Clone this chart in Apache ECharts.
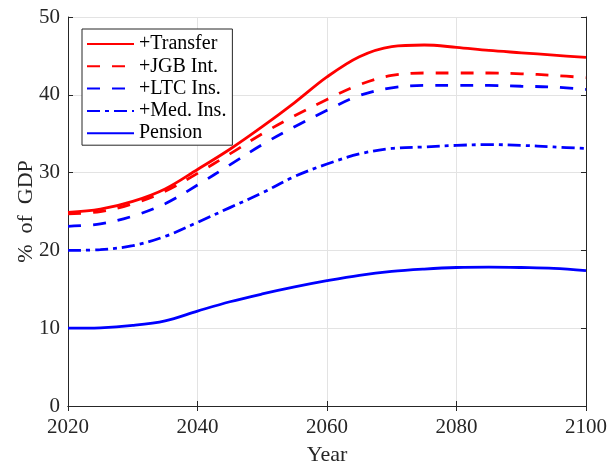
<!DOCTYPE html>
<html><head><meta charset="utf-8">
<script src="https://cdn.jsdelivr.net/npm/echarts@6/dist/echarts.min.js"></script>
<style>html,body{margin:0;padding:0;background:#fff}#c{width:609px;height:463px}</style>
</head><body><div id="c"></div>
<script>
const years = [2020,2025,2030,2035,2040,2045,2050,2055,2060,2065,2070,2075,2080,2085,2090,2095,2100];
const transfer = [24.9,25.3,26.3,27.9,30.4,33.0,35.9,39.0,42.3,44.9,46.2,46.4,46.1,45.7,45.4,45.1,44.8];
const jgb = [24.7,25.0,26.0,27.6,29.9,32.4,35.0,37.3,39.4,41.3,42.5,42.8,42.8,42.8,42.7,42.5,42.2];
const ltc = [23.1,23.4,24.4,26.0,28.4,31.0,33.6,35.9,38.0,39.9,40.9,41.2,41.2,41.2,41.1,41.0,40.7];
const med = [20.0,20.1,20.6,21.8,23.6,25.5,27.4,29.5,31.1,32.4,33.1,33.3,33.5,33.6,33.5,33.3,33.1];
const pension = [10.0,10.05,10.35,10.95,12.2,13.4,14.4,15.3,16.1,16.8,17.3,17.6,17.8,17.85,17.8,17.7,17.4];
const xTicks = [2020,2040,2060,2080,2100];
const yTicks = [0,10,20,30,40,50];

const FONT = '"Liberation Serif","Times New Roman",serif';
const AX = '#262626';
const pair = a => years.map((y,i)=>[y,a[i]]);
const chart = echarts.init(document.getElementById('c'));
const mk = (name, data, color, type) => ({
  name, type:'line', data: pair(data), smooth:0.35, symbol:'none',
  lineStyle:{color, width:2.8, type}, itemStyle:{color}
});
const axisBase = {
  axisLine:{show:true,lineStyle:{color:AX,width:1}},
  axisTick:{show:true,inside:true,length:5,lineStyle:{color:AX}},
};
chart.setOption({
  animation:false,
  grid:{left:68,right:23,top:17,bottom:57,outerBoundsMode:'none',containLabel:false},
  legend:{
    left:82, top:29, orient:'vertical',
    data:['+Transfer','+JGB Int.','+LTC Ins.','+Med. Ins.','Pension'],
    itemWidth:47, itemHeight:14, itemGap:2.3,
    itemStyle:{opacity:0},
    backgroundColor:'#fff', borderColor:AX, borderWidth:1, borderRadius:0,
    padding:[5,6,2,4],
    textStyle:{fontFamily:FONT,fontSize:20,lineHeight:20,color:'#000'}
  },
  xAxis:[
    Object.assign({type:'value',min:2020,max:2100,interval:20,
      name:'Year',nameLocation:'middle',nameGap:38,nameMoveOverlap:false,
      nameTextStyle:{fontFamily:FONT,fontSize:22,color:AX},
      axisLabel:{fontFamily:FONT,fontSize:21,color:AX,margin:11,
        formatter:v=>xTicks.includes(v)?String(v):''},
      splitLine:{show:true,lineStyle:{color:'#e3e3e3',width:1}}},axisBase),
    Object.assign({type:'value',min:2020,max:2100,interval:20,position:'top',
      axisLabel:{show:false},splitLine:{show:false}},axisBase)
  ],
  yAxis:[
    Object.assign({type:'value',min:0,max:50,interval:10,
      name:'%  of  GDP',nameLocation:'middle',nameGap:31,nameMoveOverlap:false,
      nameTextStyle:{fontFamily:FONT,fontSize:22,color:AX},
      axisLabel:{fontFamily:FONT,fontSize:21,color:AX,margin:8,
        formatter:v=>yTicks.includes(v)?String(v):''},
      splitLine:{show:true,lineStyle:{color:'#e3e3e3',width:1}}},axisBase),
    Object.assign({type:'value',min:0,max:50,interval:10,position:'right',
      axisLabel:{show:false},splitLine:{show:false}},axisBase)
  ],
  series:[
    mk('+Transfer',transfer,'#ff0000','solid'),
    mk('+JGB Int.',jgb,'#ff0000',[13,12]),
    mk('+LTC Ins.',ltc,'#0000ff',[13,12]),
    mk('+Med. Ins.',med,'#0000ff',[13,5,4,5]),
    mk('Pension',pension,'#0000ff','solid')
  ]
});
</script></body></html>
